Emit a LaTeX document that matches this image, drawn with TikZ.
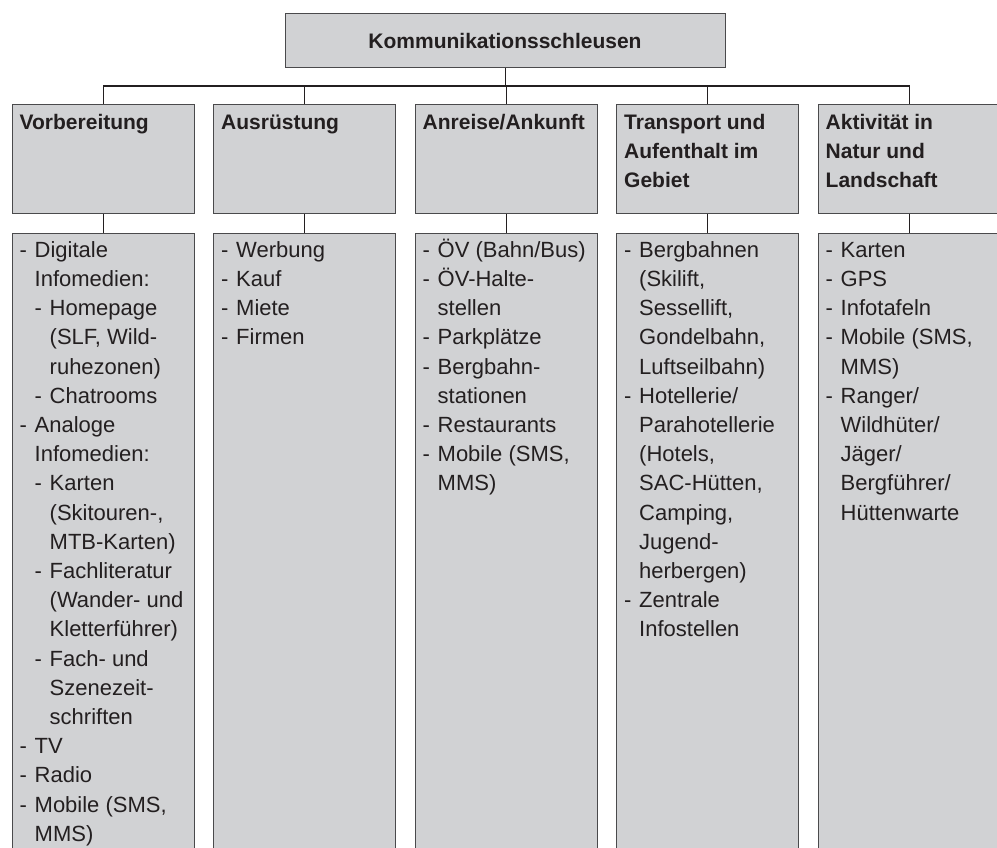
\documentclass[tikz,border=0pt]{standalone}
\usepackage{fontspec}
\setmainfont{Liberation Sans}
\definecolor{boxfill}{HTML}{D1D2D4}
\definecolor{boxline}{HTML}{4A4A4C}
\definecolor{connline}{HTML}{231F20}
\definecolor{txt}{HTML}{231F20}
\newcommand{\itemA}[1]{\makebox[15pt][l]{-}#1}
\newcommand{\contA}[1]{\hspace*{15pt}#1}
\newcommand{\itemB}[1]{\hspace*{15pt}\makebox[15pt][l]{-}#1}
\newcommand{\contB}[1]{\hspace*{30pt}#1}
\newcommand{\colbox}[1]{\parbox[t]{200pt}{#1}}
\begin{document}
\begin{tikzpicture}[x=1pt,y=-1pt,
  box/.style={draw=boxline, fill=boxfill, line width=1.2pt, inner sep=0pt, anchor=north west},
  conn/.style={draw=connline, line width=1.2pt},
  hdr/.style={anchor=base west, inner sep=0pt, text=txt, font=\bfseries\fontsize{21}{29.2}\selectfont},
  body/.style={anchor=base west, inner sep=0pt, text=txt, font=\fontsize{22}{29.2}\selectfont}]
\useasboundingbox (0,0) rectangle (997,847);
\clip (0,0) rectangle (997,847);
\coordinate (busy) at (0,86);

% top box
\node[box, minimum width=440pt, minimum height=54pt] (top) at (285,13) {};
\node[anchor=base, inner sep=0pt, text=txt, font=\bfseries\fontsize{21}{29.2}\selectfont] (ttop) at (505,48.3) {Kommunikationsschleusen};

% header boxes
\node[box, minimum width=182pt, minimum height=109pt] (h1) at (11.5,104) {};
\node[box, minimum width=182pt, minimum height=109pt] (h2) at (213,104) {};
\node[box, minimum width=182pt, minimum height=109pt] (h3) at (414.5,104) {};
\node[box, minimum width=182pt, minimum height=109pt] (h4) at (616,104) {};
\node[box, minimum width=182pt, minimum height=109pt] (h5) at (817.5,104) {};

% lower boxes
\node[box, minimum width=182pt, minimum height=640pt] (b1) at (11.5,232.7) {};
\node[box, minimum width=182pt, minimum height=640pt] (b2) at (213,232.7) {};
\node[box, minimum width=182pt, minimum height=640pt] (b3) at (414.5,232.7) {};
\node[box, minimum width=182pt, minimum height=640pt] (b4) at (616,232.7) {};
\node[box, minimum width=182pt, minimum height=640pt] (b5) at (817.5,232.7) {};

% connectors
\draw[conn] (top.south) -- (top.south |- busy);
\draw[conn] (h1.north) -- (h1.north |- busy) -- (h5.north |- busy) -- (h5.north);
\draw[conn] (h2.north) -- (h2.north |- busy);
\draw[conn] (h3.north) -- (h3.north |- busy);
\draw[conn] (h4.north) -- (h4.north |- busy);
\draw[conn] (h1.south) -- (b1.north);
\draw[conn] (h2.south) -- (b2.north);
\draw[conn] (h3.south) -- (b3.north);
\draw[conn] (h4.south) -- (b4.north);
\draw[conn] (h5.south) -- (b5.north);

% header texts
\node[hdr] (th1) at ([xshift=8pt,yshift=-25.3pt]h1.north west) {\colbox{Vorbereitung}};
\node[hdr] (th2) at ([xshift=8pt,yshift=-25.3pt]h2.north west) {\colbox{Ausrüstung}};
\node[hdr] (th3) at ([xshift=8pt,yshift=-25.3pt]h3.north west) {\colbox{Anreise/Ankunft}};
\node[hdr] (th4) at ([xshift=8pt,yshift=-25.3pt]h4.north west) {\colbox{Transport und\\Aufenthalt im\\Gebiet}};
\node[hdr] (th5) at ([xshift=8pt,yshift=-25.3pt]h5.north west) {\colbox{Aktivität in\\Natur und\\Landschaft}};

% body texts
\node[body] (tb1) at ([xshift=8pt,yshift=-24.6pt]b1.north west) {\colbox{%
\itemA{Digitale}\\
\contA{Infomedien:}\\
\itemB{Homepage}\\
\contB{(SLF, Wild-}\\
\contB{ruhezonen)}\\
\itemB{Chatrooms}\\
\itemA{Analoge}\\
\contA{Infomedien:}\\
\itemB{Karten}\\
\contB{(Skitouren-,}\\
\contB{MTB-Karten)}\\
\itemB{Fachliteratur}\\
\contB{(Wander- und}\\
\contB{Kletterführer)}\\
\itemB{Fach- und}\\
\contB{Szenezeit-}\\
\contB{schriften}\\
\itemA{TV}\\
\itemA{Radio}\\
\itemA{Mobile (SMS,}\\
\contA{MMS)}}};
\node[body] (tb2) at ([xshift=8pt,yshift=-24.6pt]b2.north west) {\colbox{%
\itemA{Werbung}\\
\itemA{Kauf}\\
\itemA{Miete}\\
\itemA{Firmen}}};
\node[body] (tb3) at ([xshift=8pt,yshift=-24.6pt]b3.north west) {\colbox{%
\itemA{ÖV (Bahn/Bus)}\\
\itemA{ÖV-Halte-}\\
\contA{stellen}\\
\itemA{Parkplätze}\\
\itemA{Bergbahn-}\\
\contA{stationen}\\
\itemA{Restaurants}\\
\itemA{Mobile (SMS,}\\
\contA{MMS)}}};
\node[body] (tb4) at ([xshift=8pt,yshift=-24.6pt]b4.north west) {\colbox{%
\itemA{Bergbahnen}\\
\contA{(Skilift,}\\
\contA{Sessellift,}\\
\contA{Gondelbahn,}\\
\contA{Luftseilbahn)}\\
\itemA{Hotellerie/}\\
\contA{Parahotellerie}\\
\contA{(Hotels,}\\
\contA{SAC-Hütten,}\\
\contA{Camping,}\\
\contA{Jugend-}\\
\contA{herbergen)}\\
\itemA{Zentrale}\\
\contA{Infostellen}}};
\node[body] (tb5) at ([xshift=8pt,yshift=-24.6pt]b5.north west) {\colbox{%
\itemA{Karten}\\
\itemA{GPS}\\
\itemA{Infotafeln}\\
\itemA{Mobile (SMS,}\\
\contA{MMS)}\\
\itemA{Ranger/}\\
\contA{Wildhüter/}\\
\contA{Jäger/}\\
\contA{Bergführer/}\\
\contA{Hüttenwarte}}};
\end{tikzpicture}
\end{document}
